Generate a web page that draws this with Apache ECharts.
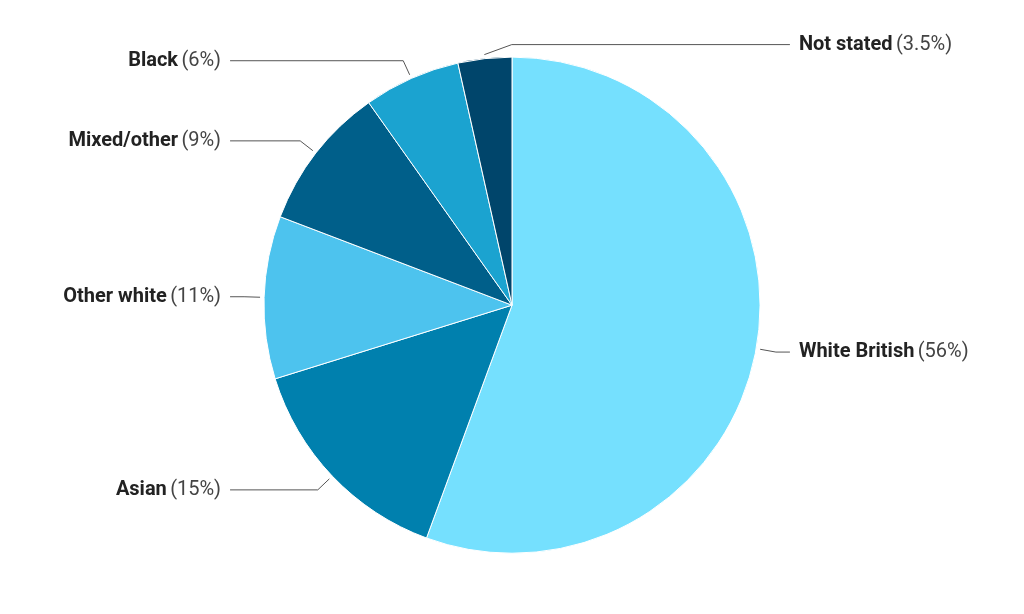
<!DOCTYPE html>
<html><head><meta charset="utf-8">
<script src="https://cdn.jsdelivr.net/npm/echarts@6/dist/echarts.min.js"></script>
<style>html,body{margin:0;padding:0;background:#fff}#c{width:1024px;height:614px}</style>
</head><body><div id="c"></div>
<script>
const categories = ['White British', 'Asian', 'Other white', 'Mixed/other', 'Black', 'Not stated'];
const values = [55.6, 14.6, 10.6, 9.4, 6.3, 3.5];
const percentLabels = ['56%', '15%', '11%', '9%', '6%', '3.5%'];
const colors = ['#75E0FE', '#0080AE', '#4DC3EE', '#005F8A', '#1BA3D0', '#00456B'];

const LINE_GAP = 4;
const LABEL_DIST = 9;
let rightLineEnd = null;

const chart = echarts.init(document.getElementById('c'));
chart.setOption({
  animation: false,
  series: [{
    type: 'pie',
    center: ['50%', '49.7%'],
    radius: ['0%', '80.8%'],
    startAngle: 90,
    clockwise: true,
    data: categories.map((n, i) => ({ name: n, value: values[i], itemStyle: { color: colors[i] } })),
    itemStyle: { borderColor: '#ffffff', borderWidth: 1 },
    label: {
      show: true,
      alignTo: 'labelLine',
      distanceToLabelLine: LABEL_DIST,
      edgeDistance: 10,
      formatter: p => '{b|' + p.name + '} {c|(' + percentLabels[p.dataIndex] + ')}',
      rich: {
        b: { fontFamily: 'Roboto', fontWeight: 'bold', fontSize: 20, color: '#222222' },
        c: { fontFamily: 'Roboto', fontSize: 20, color: '#444444' }
      }
    },
    labelLine: { show: true, length: 20, length2: 14, lineStyle: { color: '#555555', width: 1 } },
    labelLayout: function (params) {
      const pts = params.labelLinePoints;
      if (!pts || pts.length < 3) return {};
      const p0 = pts[0], p1 = pts[1];
      const dx = p1[0] - p0[0], dy = p1[1] - p0[1];
      const len = Math.sqrt(dx * dx + dy * dy) || 1;
      const start = [p0[0] + dx / len * LINE_GAP, p0[1] + dy / len * LINE_GAP];
      if (params.dataIndex === 0) {
        rightLineEnd = pts[2][0];
      }
      if (params.dataIndex === categories.length - 1) {
        const bend = [p0[0] + 27, p0[1] - 14];
        const endX = rightLineEnd != null ? rightLineEnd : pts[2][0];
        return {
          x: endX + LABEL_DIST,
          y: bend[1],
          align: 'left',
          verticalAlign: 'middle',
          labelLinePoints: [start, bend, [endX, bend[1]]]
        };
      }
      return { labelLinePoints: [start, pts[1], pts[2]] };
    }
  }]
});
</script></body></html>
